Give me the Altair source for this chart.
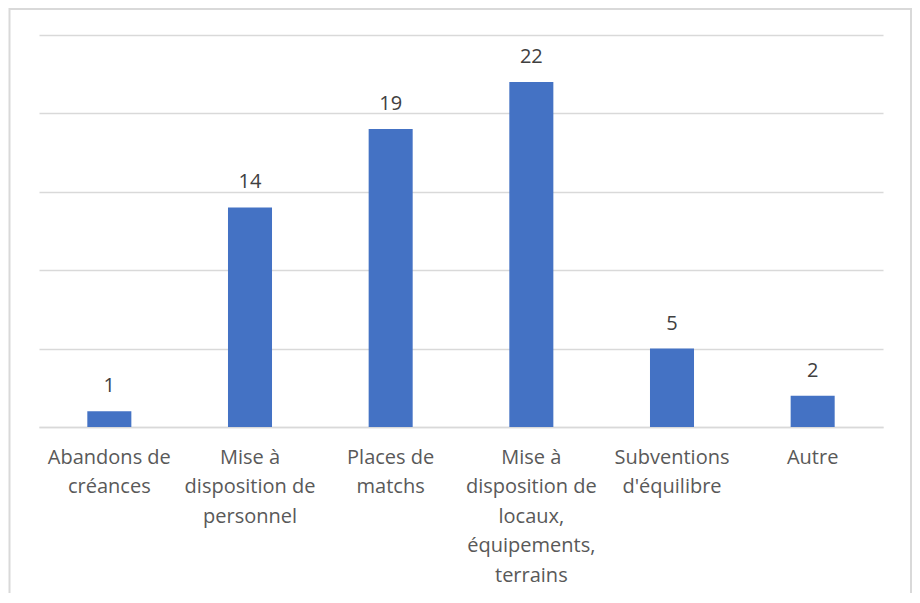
import altair as alt
import pandas as pd

categories = [
    "Abandons de\ncréances",
    "Mise à\ndisposition de\npersonnel",
    "Places de\nmatchs",
    "Mise à\ndisposition de\nlocaux,\néquipements,\nterrains",
    "Subventions\nd'équilibre",
    "Autre",
]
values = [1, 14, 19, 22, 5, 2]
y_ticks = [0, 5, 10, 15, 20, 25]

df = pd.DataFrame({"cat": categories, "val": values})

FONT = "Open Sans"
GRAY = "#d9d9d9"

x = alt.X(
    "cat:N",
    sort=categories,
    title=None,
    scale=alt.Scale(paddingInner=0.687, paddingOuter=0.3435),
    axis=alt.Axis(
        labelAngle=0,
        labelExpr="split(datum.label, '\\n')",
        labelFont=FONT,
        labelFontSize=20,
        labelColor="#595959",
        labelLineHeight=29.5,
        labelPadding=20,
        labelBaseline="top",
        ticks=False,
        domainColor=GRAY,
        domainWidth=1.5,
        labelLimit=300,
    ),
)
y = alt.Y(
    "val:Q",
    title=None,
    scale=alt.Scale(domain=[0, 25], nice=False),
    axis=alt.Axis(
        values=y_ticks,
        labels=False,
        ticks=False,
        domain=False,
        grid=True,
        gridColor=GRAY,
        gridWidth=1.5,
    ),
)

base = alt.Chart(df)
bars = base.mark_bar(color="#4472C4").encode(x=x, y=y)
text = base.mark_text(
    dy=-15, baseline="bottom", font=FONT, fontSize=20, color="#404040"
).encode(x=alt.X("cat:N", sort=categories), y="val:Q", text="val:Q")

frame = alt.Chart(pd.DataFrame({"k": [0]})).mark_rect(
    fill=None, stroke=GRAY, strokeWidth=2
).encode(
    x=alt.value(-29.5), x2=alt.value(872), y=alt.value(-26), y2=alt.value(640)
)

chart = (
    alt.layer(frame, bars, text)
    .properties(
        width=844,
        height=392,
        autosize=alt.AutoSizeParams(type="none"),
        padding={"left": 31, "top": 27, "right": 29, "bottom": 166},
    )
    .configure(background="white", view=alt.ViewConfig(stroke=None))
)

chart.save("out.html", embed_options={"renderer": "svg", "actions": False})
